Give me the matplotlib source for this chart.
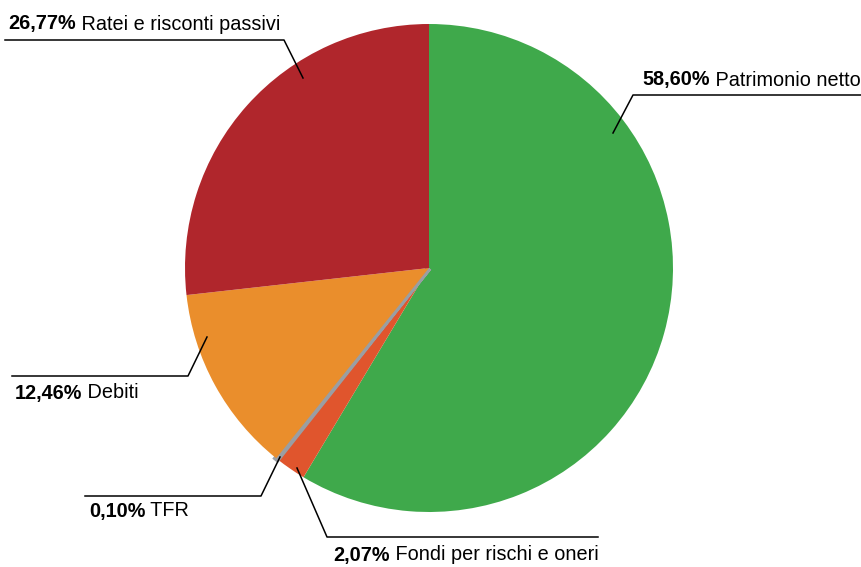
import matplotlib
matplotlib.use('Agg')
import matplotlib.pyplot as plt

plt.rcParams['font.family'] = ['Liberation Sans', 'DejaVu Sans']

# data
labels = ['Patrimonio netto', 'Fondi per rischi e oneri', 'TFR', 'Debiti',
          'Ratei e risconti passivi']
values = [58.60, 2.07, 0.10, 12.46, 26.77]
pct_text = ['58,60%', '2,07%', '0,10%', '12,46%', '26,77%']
colors = ['#3fa94b', '#e0552d', '#9a9ea3', '#ea8e2c', '#b0262c']

# layout (pixel coords, y from top): leader line points and text anchor
leaders = [
    [(613, 133), (633, 95), (861, 95)],
    [(297, 468), (327, 537), (598, 537)],
    [(280, 457), (261, 496), (85, 496)],
    [(207, 337), (188, 376), (12, 376)],
    [(303, 78), (284, 40), (5, 40)],
]
text_pos = [(642, 80), (333, 555), (89, 511), (15, 393), (8, 24)]

W, H = 861, 567
fig = plt.figure(figsize=(W / 100, H / 100), dpi=100)
ax = fig.add_axes([0, 0, 1, 1])

wedges, _ = ax.pie(values, colors=colors, startangle=90, counterclock=False,
                   center=(429, H - 268), radius=244, frame=True)
ax.set_xlim(0, W)
ax.set_ylim(0, H)
ax.set_aspect('equal')
ax.axis('off')
# keep the tiny TFR slice visible
wedges[2].set_edgecolor(colors[2])
wedges[2].set_linewidth(4)

for i in range(len(values)):
    pts = leaders[i]
    ax.plot([p[0] for p in pts], [H - p[1] for p in pts], color='black', lw=1.1)
    tx, ty = text_pos[i]
    t = ax.text(tx, H - ty, pct_text[i], fontsize=14.3, fontweight='bold',
                ha='left', va='center')
    ax.annotate(' ' + labels[i], xy=(1, 0), xycoords=t, fontsize=14.3,
                ha='left', va='bottom')

fig.savefig('out.png', dpi=100)
